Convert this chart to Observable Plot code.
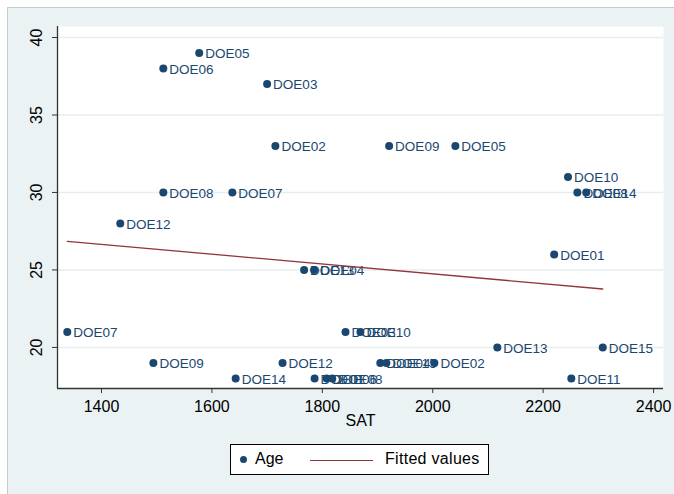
<!DOCTYPE html>
<html>
<head>
<meta charset="utf-8">
<script src="https://cdn.jsdelivr.net/npm/d3@7"></script>
<script src="https://cdn.jsdelivr.net/npm/@observablehq/plot@0.6"></script>
<style>
  html, body { margin: 0; padding: 0; background: #ffffff; }
  #wrap { position: relative; width: 674px; height: 494px; overflow: hidden; font-family: "Liberation Sans", Arial, sans-serif; }
  #bg { position: absolute; left: 7px; top: 7px; right: 0; bottom: 0; background: #eaf2f3; border-left: 1px solid #c9cccd; border-top: 1px solid #c9cccd; }
  #chart { position: absolute; left: 0; top: 0; }
  #legend { position: absolute; left: 230px; top: 444px; width: 257px; height: 29px; background: #ffffff; border: 1px solid #000000; font-size: 16px; color: #000; }
  #legend .dot { position: absolute; left: 9px; top: 11px; width: 7px; height: 7px; border-radius: 50%; background: #1a476f; }
  #legend .age { position: absolute; left: 24px; top: 5px; }
  #legend .fitline { position: absolute; left: 79px; top: 15px; width: 63px; height: 0; border-top: 1.3px solid #90353b; }
  #legend .fit { position: absolute; left: 154px; top: 5px; letter-spacing: 0.3px; }
</style>
</head>
<body>
<div id="wrap">
  <div id="bg"></div>
  <div id="chart"></div>
  <div id="legend">
    <span class="dot"></span><span class="age">Age</span>
    <span class="fitline"></span><span class="fit">Fitted values</span>
  </div>
</div>
<script>
// Student records: SAT score, age and label
const sat = [1577, 1512, 1700, 1715, 1921, 2041, 2245, 2262, 2278, 1512, 1637, 1434, 2220, 1767, 1785,
             1842, 1869, 1338, 2117, 2308, 1494, 1728, 1905, 1916, 2003, 1643, 1786, 1808, 1818, 2251];
const age = [39, 38, 37, 33, 33, 33, 31, 30, 30, 30, 30, 28, 26, 25, 25,
             21, 21, 21, 20, 20, 19, 19, 19, 19, 19, 18, 18, 18, 18, 18];
const names = ["DOE05", "DOE06", "DOE03", "DOE02", "DOE09", "DOE05", "DOE10", "DOE08", "DOE14", "DOE08", "DOE07", "DOE12", "DOE01", "DOE13", "DOE04",
               "DOE03", "DOE10", "DOE07", "DOE13", "DOE15", "DOE09", "DOE12", "DOE04", "DOE15", "DOE02", "DOE14", "DOE01", "DOE06", "DOE08", "DOE11"];

// Linear fit of age on SAT, evaluated at the ends of the SAT range
const fitSat = [1338, 2308];
const fitAge = [26.85, 23.77];

const xTicks = [1400, 1600, 1800, 2000, 2200, 2400];
const yTicks = [20, 25, 30, 35, 40];

const points = sat.map((s, i) => ({sat: s, age: age[i], name: names[i]}));
const fit = fitSat.map((s, i) => ({sat: s, age: fitAge[i]}));

const navy = "#1a476f";
const axisColor = "#333333";

const chart = Plot.plot({
  width: 674,
  height: 440,
  marginLeft: 57,
  marginRight: 11,
  marginTop: 26,
  marginBottom: 52,
  style: { background: "transparent", fontFamily: "'Liberation Sans', Arial, sans-serif" },
  x: { domain: [1320.3, 2418], axis: null },
  y: { domain: [17.35, 40.71], axis: null },
  marks: [
    Plot.frame({ fill: "#ffffff", stroke: null }),
    Plot.gridY(yTicks, { stroke: "#e6eef0", strokeOpacity: 1, strokeWidth: 1.5 }),
    // axis lines
    Plot.ruleX([1320.3], { stroke: axisColor, strokeWidth: 1.3 }),
    Plot.ruleY([17.35], { stroke: axisColor, strokeWidth: 1.3 }),
    // x axis ticks and labels
    Plot.axisX(xTicks, { tickSize: 5, tickPadding: 7, fontSize: 16, stroke: axisColor, fill: "#000", label: null, tickFormat: d => String(d) }),
    Plot.text(["SAT"], { frameAnchor: "bottom", dy: 37, fontSize: 16, fill: "#000" }),
    // y axis ticks with rotated labels
    Plot.axisY(yTicks, { tickSize: 5, tickFormat: () => "", stroke: axisColor, label: null }),
    Plot.text(yTicks, { y: d => d, text: d => String(d), frameAnchor: "left", dx: -21, rotate: -90, textAnchor: "middle", fontSize: 16, fill: "#000" }),
    // scatter with labels
    Plot.dot(points, { x: "sat", y: "age", r: 4, fill: navy, stroke: null }),
    Plot.text(points, { x: "sat", y: "age", text: "name", dx: 6, dy: 1, textAnchor: "start", fill: navy, fontSize: 13.5 }),
    // fitted line
    Plot.line(fit, { x: "sat", y: "age", stroke: "#90353b", strokeWidth: 1.3 })
  ]
});
document.getElementById("chart").appendChild(chart);
</script>
</body>
</html>
